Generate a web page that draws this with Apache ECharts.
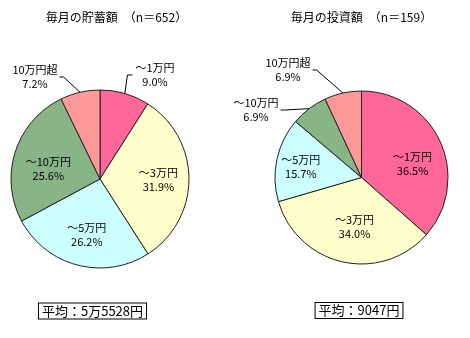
<!DOCTYPE html>
<html><head><meta charset="utf-8">
<script src="https://cdn.jsdelivr.net/npm/echarts@6/dist/echarts.min.js"></script>
<style>html,body{margin:0;padding:0;background:#fff}#c{width:470px;height:338px}</style>
</head><body><div id="c"></div>
<script>
// ---- data ----
const savingCategories = ['～1万円', '～3万円', '～5万円', '～10万円', '10万円超'];
const savingValues = [9.0, 31.9, 26.2, 25.6, 7.2];
const investCategories = ['～1万円', '～3万円', '～5万円', '～10万円', '10万円超'];
const investValues = [36.5, 34.0, 15.7, 6.9, 6.9];
const titles = ['毎月の貯蓄額　（n＝652）', '毎月の投資額　（n＝159）'];
const averages = ['平均：5万5528円', '平均：9047円'];

// ---- style / layout ----
const sliceColors = ['#FF6699', '#FFFFCC', '#CCFFFF', '#88B488', '#FF9999'];
const FONT = '"Noto Sans CJK JP", "Noto Sans", sans-serif';
const pies = [
  { cx: 100, cy: 179, r: 89,
    outside: { 0: { x: 155, y: 75, side: 'right' }, 4: { x: 35, y: 77, side: 'left' } },
    nudge: { 1: [2, 1], 2: [1, 1], 3: [2, 7] } },
  { cx: 361.5, cy: 177.5, r: 86.5,
    outside: { 3: { x: 256, y: 110, side: 'left' }, 4: { x: 288, y: 70, side: 'left' } },
    nudge: { 0: [1, 9], 1: [5, -4], 2: [-7, 1] } }
];
const datasets = [
  { cats: savingCategories, vals: savingValues },
  { cats: investCategories, vals: investValues }
];

const chart = echarts.init(document.getElementById('c'), null, { renderer: 'canvas' });
const fmt = p => p.name + '\n' + p.value.toFixed(1) + '%';
const labelText = { color: '#000', fontSize: 11, fontFamily: FONT, lineHeight: 14 };

const series = [];
datasets.forEach((d, k) => {
  const P = pies[k];
  const isOut = i => P.outside[i] !== undefined;
  series.push({
    type: 'pie', center: [P.cx, P.cy], radius: [0, P.r], startAngle: 90, clockwise: true,
    avoidLabelOverlap: false, animation: false, silent: true,
    itemStyle: { borderColor: '#222', borderWidth: 1 },
    label: Object.assign({ show: true, position: 'outside', formatter: fmt, align: 'center' }, labelText),
    labelLine: { show: true, length: 15, length2: 5, lineStyle: { color: '#000', width: 1 } },
    data: d.vals.map((v, i) => ({
      value: v, name: d.cats[i], itemStyle: { color: sliceColors[i] },
      label: { show: isOut(i) }, labelLine: { show: isOut(i) }
    })),
    labelLayout: function (params) {
      const o = P.outside[params.dataIndex];
      if (!o || !params.labelLinePoints) return {};
      const w = params.labelRect.width;
      const p0 = params.labelLinePoints[0];
      let p2, p1;
      if (o.side === 'right') { p2 = [o.x - w / 2 - 3, o.y]; p1 = [p2[0] - 5, o.y]; }
      else { p2 = [o.x + w / 2 + 2, o.y]; p1 = [p2[0] + 4, o.y]; }
      return { x: o.x, y: o.y, align: 'center', verticalAlign: 'middle', labelLinePoints: [p0, p1, p2] };
    }
  });
  // transparent overlay to place inner labels at 0.6 r
  series.push({
    type: 'pie', center: [P.cx, P.cy], radius: [0, P.r * 1.2], startAngle: 90, clockwise: true,
    avoidLabelOverlap: false, animation: false, silent: true,
    itemStyle: { color: 'rgba(0,0,0,0)', borderWidth: 0 },
    label: Object.assign({ show: true, position: 'inside', formatter: fmt }, labelText),
    labelLine: { show: false },
    emphasis: { disabled: true },
    data: d.vals.map((v, i) => ({ value: v, name: d.cats[i], label: { show: !isOut(i) } })),
    labelLayout: function (params) {
      const n = P.nudge[params.dataIndex];
      return n ? { dx: n[0], dy: n[1] } : {};
    }
  });
});

chart.setOption({
  backgroundColor: '#fff',
  series: series,
  graphic: [
    { type: 'text', x: 116.5, y: 17, style: { text: titles[0], fill: '#000', font: '12px ' + FONT, textAlign: 'center', textVerticalAlign: 'middle' } },
    { type: 'text', x: 361.5, y: 17, style: { text: titles[1], fill: '#000', font: '12px ' + FONT, textAlign: 'center', textVerticalAlign: 'middle' } },
    { type: 'text', x: 92.5, y: 311, style: { text: averages[0], fill: '#000', font: '13px ' + FONT, textAlign: 'center', textVerticalAlign: 'middle', borderColor: '#000', borderWidth: 1, padding: [1, 3], backgroundColor: '#fff' } },
    { type: 'text', x: 359, y: 310.5, style: { text: averages[1], fill: '#000', font: '13px ' + FONT, textAlign: 'center', textVerticalAlign: 'middle', borderColor: '#000', borderWidth: 1, padding: [1, 3], backgroundColor: '#fff' } }
  ]
});
</script></body></html>
